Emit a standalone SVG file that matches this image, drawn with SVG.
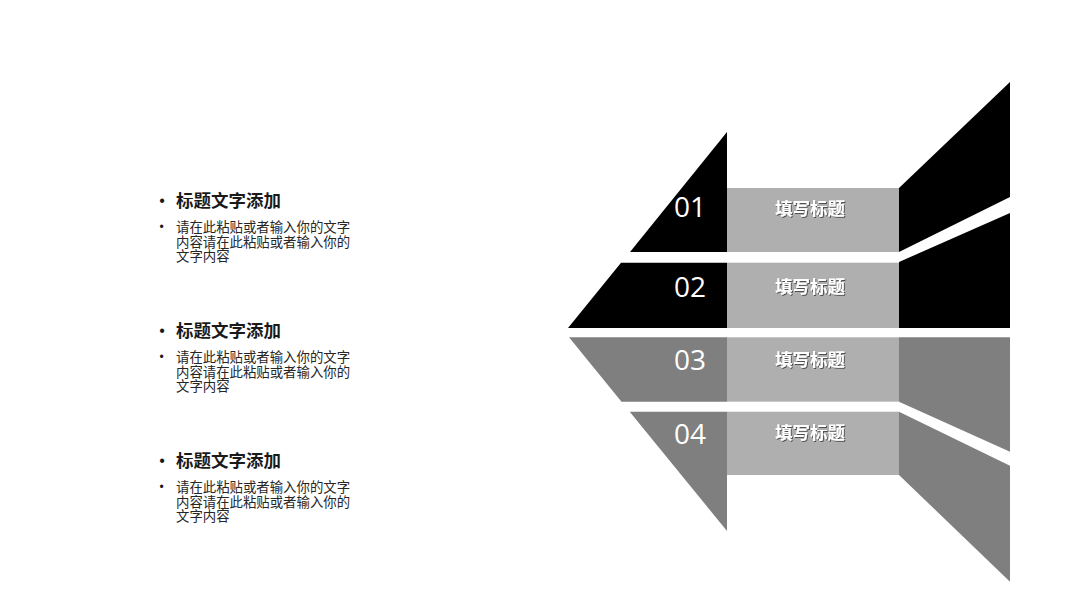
<svg xmlns="http://www.w3.org/2000/svg" width="1067" height="600" viewBox="0 0 1067 600">
  <defs>
    <filter id="sh" x="-20%" y="-40%" width="140%" height="180%">
      <feDropShadow dx="1" dy="1" stdDeviation="0.6" flood-color="#000" flood-opacity="0.55"/>
    </filter>
  </defs>
  <style>
    .blk{fill:#000}
    .gry{fill:#7f7f7f}
    .lt{fill:#afafaf}
    .num{font-family:"Open Sans","Liberation Sans",sans-serif;font-weight:400;font-size:28px;fill:#fff;text-anchor:middle}
    .ttl{font-family:"Noto Sans CJK SC",sans-serif;font-weight:700;font-size:17.5px;fill:#fff;text-anchor:middle}
    .head{font-family:"Noto Sans CJK SC",sans-serif;font-weight:700;font-size:17.5px;fill:#1a1a1a}
    .body{font-family:"Noto Sans CJK SC",sans-serif;font-size:13.4px;fill:#262626}
    .bul{font-family:"Liberation Sans",sans-serif;fill:#1a1a1a;text-anchor:middle}
  </style>
  <rect width="1067" height="600" fill="#fff"/>

  <g id="item1">
    <text class="bul" x="162" y="206" font-size="16">•</text>
    <text class="head" x="176" y="207.3">标题文字添加</text>
    <text class="bul" x="161.5" y="231" font-size="12">•</text>
    <text class="body" x="176" y="231.8">请在此粘贴或者输入你的文字<tspan x="176" dy="14.7">内容请在此粘贴或者输入你的</tspan><tspan x="176" dy="14.7">文字内容</tspan></text>
  </g>
  <g id="item2">
    <text class="bul" x="162" y="336" font-size="16">•</text>
    <text class="head" x="176" y="337.3">标题文字添加</text>
    <text class="bul" x="161.5" y="361" font-size="12">•</text>
    <text class="body" x="176" y="361.8">请在此粘贴或者输入你的文字<tspan x="176" dy="14.7">内容请在此粘贴或者输入你的</tspan><tspan x="176" dy="14.7">文字内容</tspan></text>
  </g>
  <g id="item3">
    <text class="bul" x="162" y="466" font-size="16">•</text>
    <text class="head" x="176" y="467.3">标题文字添加</text>
    <text class="bul" x="161.5" y="491" font-size="12">•</text>
    <text class="body" x="176" y="491.8">请在此粘贴或者输入你的文字<tspan x="176" dy="14.7">内容请在此粘贴或者输入你的</tspan><tspan x="176" dy="14.7">文字内容</tspan></text>
  </g>

  <g id="row1">
    <polygon class="blk" points="727,132 727,252 630,252"/>
    <rect class="lt" x="727" y="188" width="172" height="64"/>
    <polygon class="blk" points="899,188 1010,82 1010,197 899,252"/>
    <text class="num" x="690" y="217.3">01</text>
    <text class="ttl" x="810" y="214.5" filter="url(#sh)">填写标题</text>
  </g>
  <g id="row2">
    <polygon class="blk" points="621,262.7 727,262.7 727,328 568,328"/>
    <rect class="lt" x="727" y="262.7" width="172" height="65.3"/>
    <polygon class="blk" points="899,262 1010,213 1010,328 899,328"/>
    <text class="num" x="690" y="296.7">02</text>
    <text class="ttl" x="810" y="292.9" filter="url(#sh)">填写标题</text>
  </g>
  <g id="row3">
    <polygon class="gry" points="569,337.3 727,337.3 727,401.7 621.5,401.7"/>
    <rect class="lt" x="727" y="337.3" width="172" height="64.4"/>
    <polygon class="gry" points="899,337.3 1010,337.3 1010,451.7 899,401.7"/>
    <text class="num" x="690" y="370">03</text>
    <text class="ttl" x="810" y="365.5" filter="url(#sh)">填写标题</text>
  </g>
  <g id="row4">
    <polygon class="gry" points="629.7,411.7 727,411.7 727,531"/>
    <rect class="lt" x="727" y="411.7" width="172" height="63.3"/>
    <polygon class="gry" points="899,411.7 1010,465.7 1010,581.7 899,475"/>
    <text class="num" x="690" y="444">04</text>
    <text class="ttl" x="810" y="438.9" filter="url(#sh)">填写标题</text>
  </g>
  <g id="connectors"/>
</svg>
